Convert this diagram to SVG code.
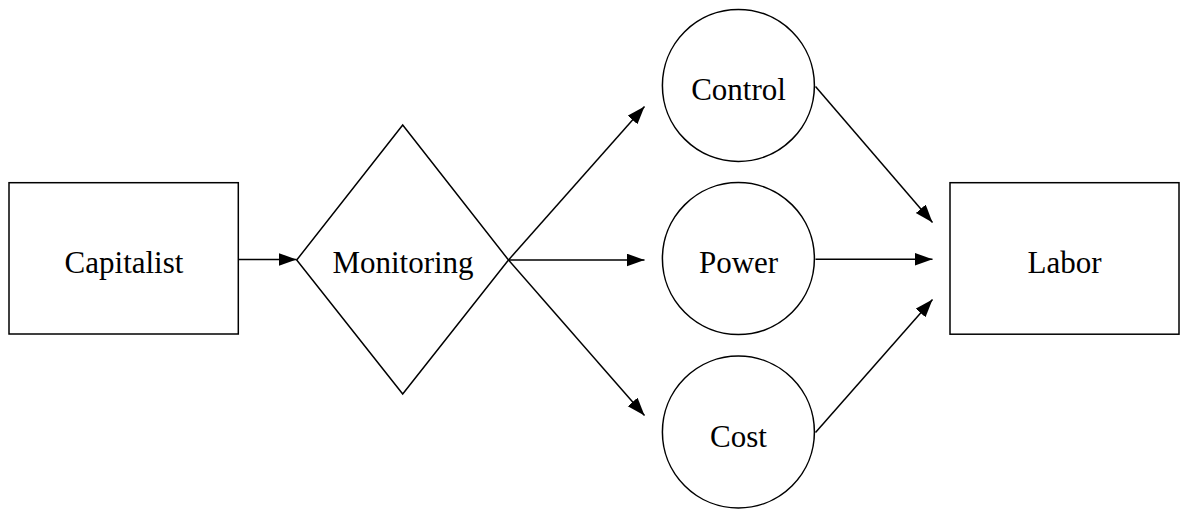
<svg xmlns="http://www.w3.org/2000/svg" width="1181" height="510" viewBox="0 0 1181 510">
  <defs>
    <marker id="arrow" markerUnits="userSpaceOnUse" markerWidth="19" markerHeight="14" refX="18" refY="6.5" orient="auto">
      <path d="M0,0 L18,6.5 L0,13 z" fill="#000"/>
    </marker>
    <style>
      .shape { fill: #fff; stroke: #000; stroke-width: 1.5; }
      .label { font-size: 31px; fill: #000; text-anchor: middle; }
      .edge { stroke: #000; stroke-width: 1.5; fill: none; marker-end: url(#arrow); }
    </style>
  </defs>
  <rect width="1181" height="510" fill="#fff"/>

  <g id="connectors">
    <line class="edge" x1="238.5" y1="259.5" x2="296.5" y2="259.5"/>
    <line class="edge" x1="508.5" y1="260" x2="644.5" y2="106.5"/>
    <line class="edge" x1="508.5" y1="260" x2="644.5" y2="260"/>
    <line class="edge" x1="508.5" y1="260" x2="644.5" y2="415.5"/>
    <line class="edge" x1="815.5" y1="86.5" x2="932.5" y2="222.5"/>
    <line class="edge" x1="815.5" y1="259.3" x2="932.5" y2="259.3"/>
    <line class="edge" x1="815.5" y1="432.5" x2="932.5" y2="299.5"/>
  </g>

  <g id="capitalist">
    <rect class="shape" x="9" y="182.7" width="229.3" height="151.3"/>
    <text class="label" style="font-family:'Liberation Serif'" x="124" y="273.3">Capitalist</text>
  </g>

  <g id="monitoring">
    <polygon class="shape" points="402.7,125 508.5,260 402.7,394 296.7,260"/>
    <text class="label" style="font-family:'Liberation Serif'" x="403" y="273.3">Monitoring</text>
  </g>

  <g id="control">
    <circle class="shape" cx="738.4" cy="85.4" r="76"/>
    <text class="label" style="font-family:'Liberation Serif'" x="738.5" y="100">Control</text>
  </g>

  <g id="power">
    <circle class="shape" cx="738.4" cy="258.6" r="76"/>
    <text class="label" style="font-family:'Liberation Serif'" x="738.5" y="273.3">Power</text>
  </g>

  <g id="cost">
    <circle class="shape" cx="738.4" cy="432" r="76"/>
    <text class="label" style="font-family:'Liberation Serif'" x="738.5" y="446.6">Cost</text>
  </g>

  <g id="labor">
    <rect class="shape" x="950" y="182.7" width="229" height="151.5"/>
    <text class="label" style="font-family:'Liberation Serif'" x="1064.5" y="273.3">Labor</text>
  </g>
</svg>
